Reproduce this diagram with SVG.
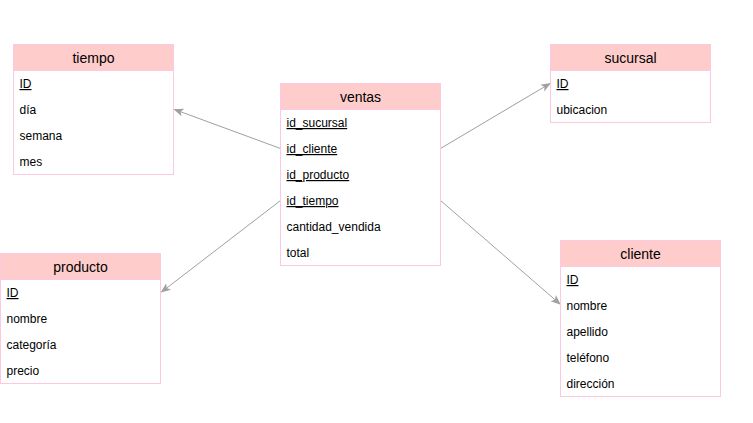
<svg xmlns="http://www.w3.org/2000/svg" width="753" height="423" viewBox="0 0 753 423">
<style>
.box{fill:#ffffff;stroke:#ffc8e2;stroke-width:1}
.hdr{fill:#ffcccc;stroke:#ffc8e2;stroke-width:1}
.ht{font-family:"Liberation Sans",Tahoma,sans-serif;font-size:14px;fill:#000;text-anchor:middle}
.rt{font-family:"Liberation Sans",Tahoma,sans-serif;font-size:12px;fill:#000}
.pk{text-decoration:underline}
.cn{stroke:#a0a0a0;stroke-width:1;fill:none;marker-end:url(#ah)}
</style>
<defs>
<marker id="ah" viewBox="0 0 10 10" refX="9" refY="5" markerWidth="10" markerHeight="10" markerUnits="userSpaceOnUse" orient="auto">
<path d="M0,1 L10,5 L0,9 L2.5,5 Z" fill="#a0a0a0"/>
</marker>
</defs>
<rect width="753" height="423" fill="#ffffff"/>
<g id="connectors">
<line class="cn" x1="280.5" y1="148.5" x2="174.5" y2="109.5"/>
<line class="cn" x1="280.5" y1="200.5" x2="161.5" y2="292"/>
<line class="cn" x1="440.5" y1="148.5" x2="550" y2="83.5"/>
<line class="cn" x1="440.5" y1="200.5" x2="560" y2="304"/>
</g>
<g id="tiempo">
<rect class="box" x="13.5" y="44.5" width="160" height="130"/>
<rect class="hdr" x="13.5" y="44.5" width="160" height="26"/>
<text class="ht" x="93.5" y="62.5">tiempo</text>
<text class="rt pk" x="19.5" y="88">ID</text>
<text class="rt" x="19.5" y="114">día</text>
<text class="rt" x="19.5" y="140">semana</text>
<text class="rt" x="19.5" y="166">mes</text>
</g>
<g id="ventas">
<rect class="box" x="280.5" y="83.5" width="160" height="182"/>
<rect class="hdr" x="280.5" y="83.5" width="160" height="26"/>
<text class="ht" x="360.5" y="101.5">ventas</text>
<text class="rt pk" x="286.5" y="127">id_sucursal</text>
<text class="rt pk" x="286.5" y="153">id_cliente</text>
<text class="rt pk" x="286.5" y="179">id_producto</text>
<text class="rt pk" x="286.5" y="205">id_tiempo</text>
<text class="rt" x="286.5" y="231">cantidad_vendida</text>
<text class="rt" x="286.5" y="257">total</text>
</g>
<g id="sucursal">
<rect class="box" x="550.5" y="44.5" width="160" height="78"/>
<rect class="hdr" x="550.5" y="44.5" width="160" height="26"/>
<text class="ht" x="630.5" y="62.5">sucursal</text>
<text class="rt pk" x="556.5" y="88">ID</text>
<text class="rt" x="556.5" y="114">ubicacion</text>
</g>
<g id="producto">
<rect class="box" x="0.5" y="253.5" width="160" height="130"/>
<rect class="hdr" x="0.5" y="253.5" width="160" height="26"/>
<text class="ht" x="80.5" y="271.5">producto</text>
<text class="rt pk" x="6.5" y="297">ID</text>
<text class="rt" x="6.5" y="323">nombre</text>
<text class="rt" x="6.5" y="349">categoría</text>
<text class="rt" x="6.5" y="375">precio</text>
</g>
<g id="cliente">
<rect class="box" x="560.5" y="240.5" width="160" height="156"/>
<rect class="hdr" x="560.5" y="240.5" width="160" height="26"/>
<text class="ht" x="640.5" y="258.5">cliente</text>
<text class="rt pk" x="566.5" y="284">ID</text>
<text class="rt" x="566.5" y="310">nombre</text>
<text class="rt" x="566.5" y="336">apellido</text>
<text class="rt" x="566.5" y="362">teléfono</text>
<text class="rt" x="566.5" y="388">dirección</text>
</g>
</svg>
